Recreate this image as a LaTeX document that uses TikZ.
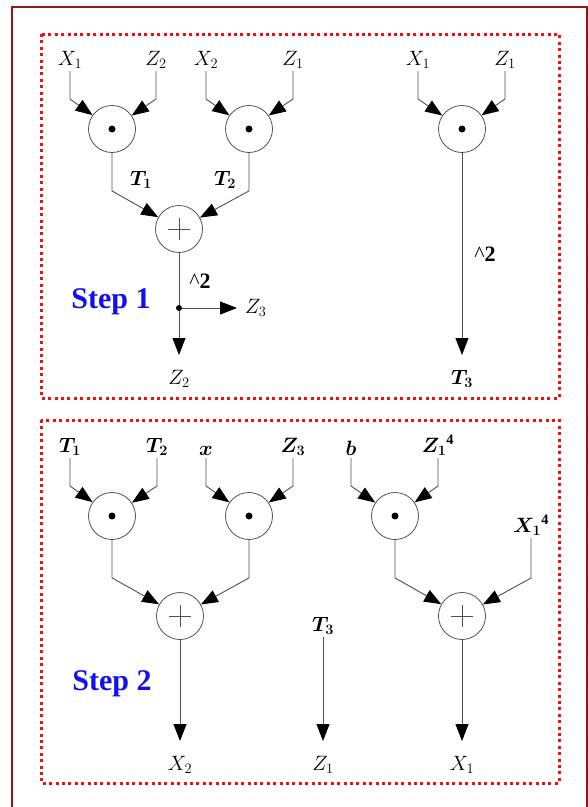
\documentclass[tikz,border=0pt]{standalone}
\usepackage{bm}
\usepackage{fontspec}
\setmainfont{Liberation Serif}
\usetikzlibrary{arrows.meta}

\definecolor{framered}{HTML}{8B1A1A}
\definecolor{boxred}{HTML}{F01010}
\definecolor{wire}{HTML}{505050}
\definecolor{stepblue}{HTML}{1010F0}

\tikzset{
  lbl/.style={font=\fontsize{20.74}{25}\selectfont, inner sep=2pt},
  inlbl/.style={lbl, anchor=south},
  outlbl/.style={lbl, anchor=north, outer sep=13pt},
  op/.style={circle, draw=wire, line width=0.8pt, minimum size=47pt, inner sep=0pt},
  dotop/.style={op, path picture={\fill (path picture bounding box.center) circle (3.5pt);}},
  plusop/.style={op, path picture={
      \draw[wire, line width=0.8pt]
        ([xshift=-11pt]path picture bounding box.center) -- ([xshift=11pt]path picture bounding box.center)
        ([yshift=-11pt]path picture bounding box.center) -- ([yshift=11pt]path picture bounding box.center);}},
  wireline/.style={draw=wire, line width=0.9pt},
  arr/.style={wireline, -{Triangle[length=17pt, width=13pt, color=black]}},
  stepbox/.style={draw=boxred, line width=3pt, dash pattern=on 3pt off 3.4pt},
  steplabel/.style={font=\fontsize{30}{34}\selectfont\bfseries, text=stepblue},
  powlabel/.style={font=\fontsize{22}{26}\selectfont, inner sep=2pt},
}

\begin{document}
\begin{tikzpicture}[x=1pt, y=-1pt]
  \useasboundingbox (0,0) rectangle (588,807);
  \clip (0,0) rectangle (588,807);

  % outer frame and the two step panels
  \draw[framered, line width=2.2pt] (12,7) rectangle (587,840);
  \draw[stepbox] (41,34) rectangle (559,398);
  \draw[stepbox] (41,420) rectangle (559,783);

  % ---------------- Step 1 ----------------
  \node[steplabel] (s1) at (111,302) {Step 1};

  \node[inlbl] (a1) at (70,71)  {$X_1$};
  \node[inlbl] (a2) at (156,71) {$Z_2$};
  \node[inlbl] (a3) at (206,71) {$X_2$};
  \node[inlbl] (a4) at (293,71) {$Z_1$};
  \node[inlbl] (a5) at (418,71) {$X_1$};
  \node[inlbl] (a6) at (505,71) {$Z_1$};

  \node[dotop]  (d1) at (112,129) {};
  \node[dotop]  (d2) at (249,129) {};
  \node[dotop]  (d3) at (462,129) {};
  \node[plusop] (p1) at (179,229) {};

  \draw[arr] (a1.south) -- ++(0,28) -- (d1);
  \draw[arr] (a2.south) -- ++(0,28) -- (d1);
  \draw[arr] (a3.south) -- ++(0,28) -- (d2);
  \draw[arr] (a4.south) -- ++(0,28) -- (d2);
  \draw[arr] (a5.south) -- ++(0,28) -- (d3);
  \draw[arr] (a6.south) -- ++(0,28) -- (d3);

  \draw[arr] (d1.south) -- ++(0,38) -- (p1);
  \draw[arr] (d2.south) -- ++(0,38) -- (p1);
  \node[lbl] (t1) at (141,180) {$\bm{T_1}$};
  \node[lbl] (t2) at (225,180) {$\bm{T_2}$};

  \coordinate (j) at (179,308);
  \node[powlabel] (sq1) at (200,281) {\textasciicircum\textbf{2}};
  \node[outlbl] (z2o) at (179,355) {$Z_2$};
  \node[lbl, anchor=west, outer sep=6pt] (z3o) at (237,308) {$Z_3$};
  \draw[wireline] (p1) -- (j);
  \draw[arr] (j) -- (z2o);
  \draw[arr] (j) -- (z3o);
  \fill (j) circle (3pt);

  \node[powlabel] (sq2) at (485,254) {\textasciicircum\textbf{2}};
  \node[outlbl] (t3o) at (462,355) {$\bm{T_3}$};
  \draw[arr] (d3) -- (t3o);

  % ---------------- Step 2 ----------------
  \node[steplabel] (s2) at (112,684) {Step 2};

  \node[inlbl] (b1) at (70,458)  {$\bm{T_1}$};
  \node[inlbl] (b2) at (157,458) {$\bm{T_2}$};
  \node[inlbl] (b3) at (206,458) {$\bm{x}$};
  \node[inlbl] (b4) at (293,458) {$\bm{Z_3}$};
  \node[inlbl] (b5) at (351,458) {$\bm{b}$};
  \node[inlbl] (b6) at (438,458) {$\bm{{Z_1}}^{\mathbf{4}}$};
  \node[inlbl] (b7) at (531,538) {$\bm{{X_1}}^{\mathbf{4}}$};
  \node[inlbl] (b8) at (323,637) {$\bm{T_3}$};

  \node[dotop]  (d4) at (112,516) {};
  \node[dotop]  (d5) at (249,516) {};
  \node[dotop]  (d6) at (395,516) {};
  \node[plusop] (p2) at (180,616) {};
  \node[plusop] (p3) at (462,616) {};

  \draw[arr] (b1.south) -- ++(0,28) -- (d4);
  \draw[arr] (b2.south) -- ++(0,28) -- (d4);
  \draw[arr] (b3.south) -- ++(0,28) -- (d5);
  \draw[arr] (b4.south) -- ++(0,28) -- (d5);
  \draw[arr] (b5.south) -- ++(0,28) -- (d6);
  \draw[arr] (b6.south) -- ++(0,28) -- (d6);

  \draw[arr] (d4.south) -- ++(0,38) -- (p2);
  \draw[arr] (d5.south) -- ++(0,38) -- (p2);
  \draw[arr] (d6.south) -- ++(0,38) -- (p3);
  \draw[arr] (b7.south) -- ++(0,40) -- (p3);

  \node[outlbl] (x2o) at (180,741) {$X_2$};
  \node[outlbl] (z1o) at (323,741) {$Z_1$};
  \node[outlbl] (x1o) at (462,741) {$X_1$};
  \draw[arr] (p2) -- (x2o);
  \draw[arr] (b8.south) -- (z1o);
  \draw[arr] (p3) -- (x1o);
\end{tikzpicture}
\end{document}
